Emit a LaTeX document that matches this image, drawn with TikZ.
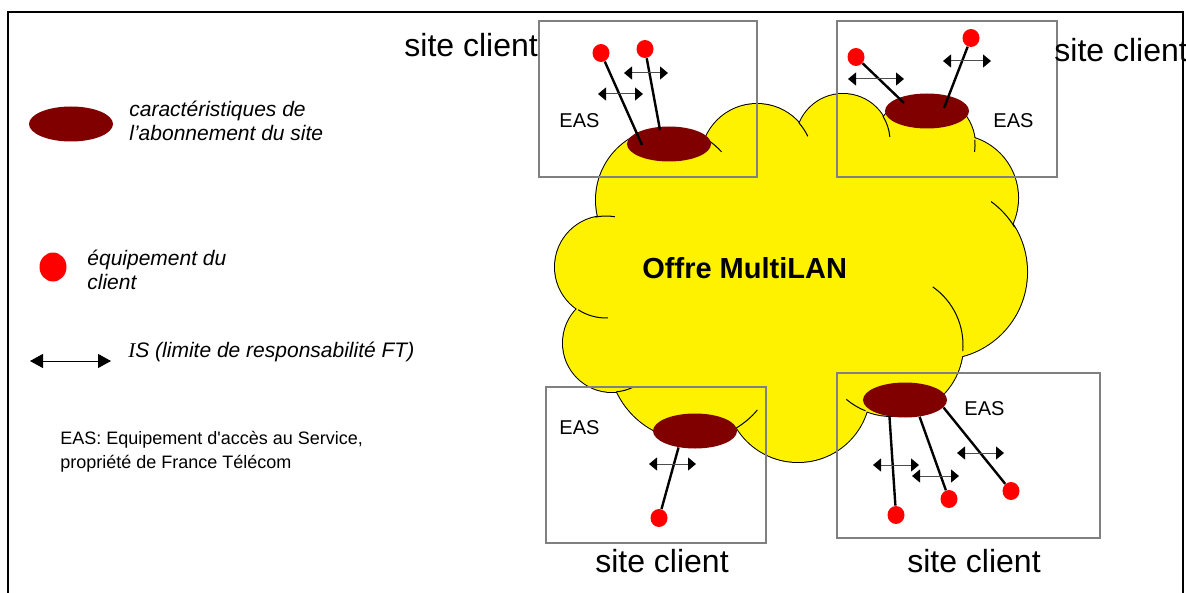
\documentclass[tikz,border=0pt]{standalone}
\usepackage{fontspec}
\setmainfont{Liberation Sans}
\newfontfamily\timesfont{Liberation Serif}
\usepackage{tikz}
\usetikzlibrary{arrows.meta, shapes.geometric, positioning}
\definecolor{abonbrown}{RGB}{128,0,0}
\definecolor{boxgray}{RGB}{128,128,128}

\begin{document}
\begin{tikzpicture}[x=0.5pt,y=-0.5pt,
  abon/.style={ellipse,fill=abonbrown,inner sep=0pt,minimum width=42pt,minimum height=17.5pt},
  equip/.style={ellipse,fill=red,inner sep=0pt,minimum width=8.5pt,minimum height=9pt},
  sitebox/.style={draw=boxgray,line width=1pt},
  link/.style={line width=1.2pt},
  limit/.style={draw=black!70,line width=0.5pt,{Triangle[length=4pt,width=6.5pt,black]}-{Triangle[length=4pt,width=6.5pt,black]}},
  sitetext/.style={font=\fontsize{16}{19}\selectfont,inner sep=0pt},
  eastext/.style={font=\fontsize{10}{12}\selectfont,inner sep=0pt,anchor=base west},
  legtext/.style={font=\fontsize{10.5}{12}\selectfont\itshape,inner sep=0pt,anchor=base west}]
\path[fill=white] (0,0) rectangle (1186,593);
\useasboundingbox (0,0) rectangle (1186,593);
\foreach \x/\y/\r in {668/200/72,757/160/56,843/141/47,925/145/50,955/198/63,940/272/87,892/345/71,798/390/72,693/356/84,612/343/49,606/267/51}
  \path[draw][line width=1pt] (\x,\y) circle[radius=\r];
\foreach \x/\y/\r in {668/200/72,757/160/56,843/141/47,925/145/50,955/198/63,940/272/87,892/345/71,798/390/72,693/356/84,612/343/49,606/267/51}
  \path[fill=yellow] (\x,\y) circle[radius=\r];
\path[fill=yellow] (668,200) -- (757,160) -- (843,141) -- (925,145) -- (955,198) -- (940,272) -- (892,345) -- (798,390) -- (693,356) -- (612,343) -- (606,267) -- cycle;
\foreach \x/\y/\r/\a/\b in {606/267/51/-102/-80,606/267/51/123/88,612/343/49/85/65,693/356/84/59/40,892/345/71/130/112,892/345/71/5/-55,940/272/87/-31/-54,925/145/50/-6/8,843/141/47/-32/-5,757/160/56/-42/-25,668/200/72/-57/-42}
  \path[draw][line width=0.5pt] (\x,\y) ++(\a:\r) arc[start angle=\a,end angle=\b,radius=\r];
\path (642,278) node[font=\fontsize{14.5}{17}\selectfont\bfseries,inner sep=0pt,anchor=base west] (offre) {Offre MultiLAN};

\path[draw][sitebox] (539,21) rectangle (757,177);
\path[draw][sitebox] (837,21) rectangle (1057,177);
\path[draw][sitebox] (546,387) rectangle (766,543);
\path[draw][sitebox] (837,373) rectangle (1100,538);
\path (404,57) node[sitetext,anchor=base west] (tlsite) {site client};
\path (1054,62) node[sitetext,anchor=base west] (trsite) {site client};
\path (662,572) node[sitetext,anchor=base] (blsite) {site client};
\path (974,572) node[sitetext,anchor=base] (brsite) {site client};
\path (559,128) node[eastext] (tleas) {EAS};
\path (993,128) node[eastext] (treas) {EAS};
\path (559,434) node[eastext] (bleas) {EAS};
\path (964,415) node[eastext] (breas) {EAS};

\path (669,144) node[abon] (tlabon) {};
\path (927,111) node[abon] (trabon) {};
\path (695,431) node[abon] (blabon) {};
\path (905,400) node[abon] (brabon) {};
\path (601,53) node[equip] (tl1) {};
\path (645,49) node[equip] (tl2) {};
\path (856,57) node[equip] (tr1) {};
\path (971,38) node[equip] (tr2) {};
\path (659,518) node[equip] (bl1) {};
\path (896,515) node[equip] (br1) {};
\path (949,499) node[equip] (br2) {};
\path (1011,491) node[equip] (br3) {};
\coordinate (tlend1) at (642,145);
\coordinate (tlend2) at (660,130);
\coordinate (trend1) at (904,103);
\coordinate (trend2) at (944,108);
\path[draw][link] (tl1) -- (tlend1);
\path[draw][link] (tl2) -- (tlend2);
\path[draw][link] (tr1) -- (trend1);
\path[draw][link] (tr2) -- (trend2);
\path[draw][link] (blabon.-135) -- (bl1);
\path[draw][link] (brabon.-133) -- (br1);
\path[draw][link] (brabon.-49) -- (br2);
\path[draw][link] (brabon.-11) -- (br3);
\path[draw][limit] (624,73) -- (668,73);
\path[draw][limit] (598,94) -- (643,94);
\path[draw][limit] (848,79) -- (904,79);
\path[draw][limit] (943,61) -- (991,61);
\path[draw][limit] (649,464) -- (696,464);
\path[draw][limit] (873,465) -- (919,465);
\path[draw][limit] (912,476) -- (959,476);
\path[draw][limit] (957,453) -- (1004,453);

\path (71,124) node[abon] (legabon) {};
\path (129,117) node[legtext] (leg1a) {caractéristiques de};
\path (129,140.5) node[legtext] (leg1b) {l’abonnement du site};
\path (53,267) node[equip,minimum width=13.5pt,minimum height=14.5pt] (legequip) {};
\path (87,265) node[legtext] (leg2a) {équipement du};
\path (87,289) node[legtext] (leg2b) {client};
\path[draw][draw=black,line width=0.5pt,{Triangle[length=6.5pt,width=7pt]}-{Triangle[length=6.5pt,width=7pt]}] (30,361) -- (111,361);
\path (128,357.5) node[legtext] (leg3) {{\timesfont I}S (limite de responsabilité FT)};
\path (60,444) node[font=\fontsize{9}{11}\selectfont,inner sep=0pt,anchor=base west] (leg4a) {EAS: Equipement d\textquotesingle accès au Service,};
\path (60,468) node[font=\fontsize{9}{11}\selectfont,inner sep=0pt,anchor=base west] (leg4b) {propriété de France Télécom};

\path[draw][line width=1pt] (8,600) -- (8,12) -- (1183,12) -- (1183,600);
\end{tikzpicture}
\end{document}
